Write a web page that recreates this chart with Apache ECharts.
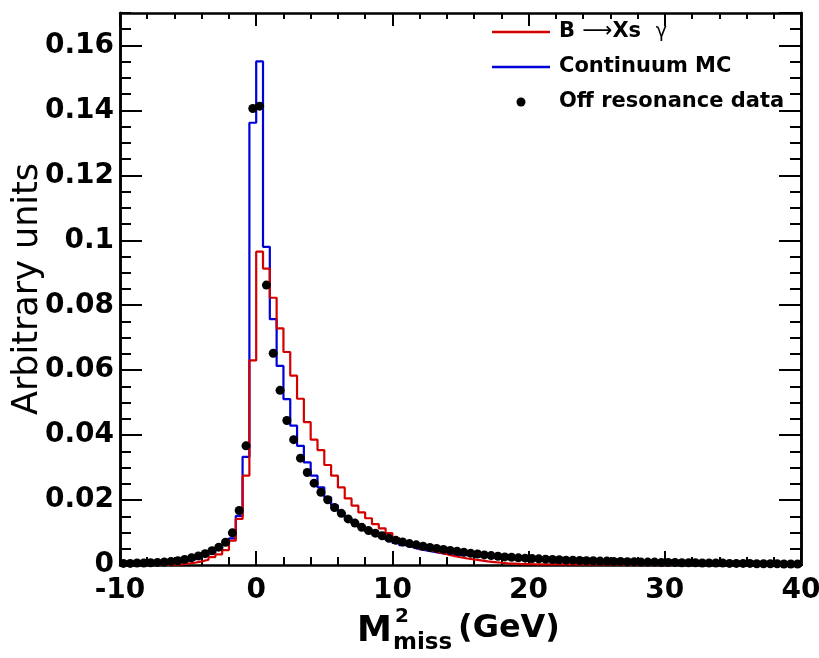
<!DOCTYPE html>
<html>
<head>
<meta charset="utf-8">
<script src="https://cdn.jsdelivr.net/npm/echarts@6/dist/echarts.min.js"></script>
<style>
html,body{margin:0;padding:0;background:#fff;}
#chart{width:819px;height:658px;}
</style>
</head>
<body>
<div id="chart"></div>
<script>
// Histogram binning: 100 bins of width 0.5 from -10 to 40
const binLow = -10;
const binWidth = 0.5;
const xTickLabels = ['-10', '0', '10', '20', '30', '40'];
const yTickLabels = ['0', '0.02', '0.04', '0.06', '0.08', '0.1', '0.12', '0.14', '0.16'];
const seriesNames = ['B \u2192 Xs \u03b3', 'Continuum MC', 'Off resonance data'];

// B -> Xs gamma (red histogram)
const bxsgamma = [
  0, 0, 0, 0, 0, 0, 0, 0.0001, 0.0002, 0.0004,
  0.0007, 0.0011, 0.0016, 0.0024, 0.0033, 0.0046, 0.0075, 0.0142, 0.0275, 0.0630,
  0.0965, 0.0913, 0.0823, 0.0729, 0.0656, 0.0583, 0.0512, 0.0440, 0.0386, 0.0354,
  0.0308, 0.0275, 0.0239, 0.0205, 0.0183, 0.0162, 0.0144, 0.0126, 0.0113, 0.0098,
  0.0083, 0.0072, 0.0064, 0.0056, 0.0049, 0.0043, 0.0038, 0.0033, 0.0028, 0.0024,
  0.0020, 0.0017, 0.0014, 0.0011, 0.0009, 0.0007, 0.0005, 0.0004, 0.0003, 0.0003,
  0.0002, 0.0002, 0.0002, 0.0002, 0.0002, 0.0002, 0.0002, 0.0002, 0.0002, 0.0002,
  0.0002, 0.0002, 0.0002, 0.0001, 0.0001, 0.0001, 0.0001, 0.0001, 0.0001, 0.0001,
  0.0001, 0.0001, 0.0001, 0.0001, 0.0001, 0.0001, 0.0001, 0.0001, 0.0001, 0.0001,
  0.0001, 0.0001, 0.0001, 0.0001, 0.0001, 0.0001, 0.0001, 0.0001, 0.0001, 0.0001
];

// Continuum MC (blue histogram)
const continuumMC = [
  0.0003, 0.0003, 0.0004, 0.0004, 0.0005, 0.0006, 0.0007, 0.0008, 0.0010, 0.0013,
  0.0017, 0.0022, 0.0029, 0.0038, 0.0049, 0.0062, 0.0082, 0.0151, 0.0333, 0.1362,
  0.1551, 0.0980, 0.0757, 0.0613, 0.0511, 0.0429, 0.0367, 0.0316, 0.0275, 0.0239,
  0.0208, 0.0183, 0.0162, 0.0144, 0.0128, 0.0115, 0.0104, 0.0094, 0.0085, 0.0077,
  0.0068, 0.0061, 0.0055, 0.0049, 0.0045, 0.0041, 0.0037, 0.0034, 0.0032, 0.0031,
  0.0030, 0.0028, 0.0027, 0.0025, 0.0024, 0.0022, 0.0021, 0.0020, 0.0019, 0.0018,
  0.0017, 0.0016, 0.0015, 0.0015, 0.0014, 0.0013, 0.0013, 0.0012, 0.0012, 0.0011,
  0.0011, 0.0010, 0.0010, 0.0010, 0.0009, 0.0009, 0.0008, 0.0008, 0.0008, 0.0007,
  0.0007, 0.0007, 0.0006, 0.0006, 0.0006, 0.0006, 0.0005, 0.0005, 0.0005, 0.0005,
  0.0004, 0.0004, 0.0004, 0.0004, 0.0004, 0.0003, 0.0003, 0.0003, 0.0003, 0.0003
];

// Off resonance data (black points)
const offResData = [
  0.0005, 0.0005, 0.0006, 0.0006, 0.0007, 0.0008, 0.0009, 0.0011, 0.0013, 0.0017,
  0.0022, 0.0028, 0.0035, 0.0044, 0.0055, 0.0070, 0.0099, 0.0168, 0.0367, 0.1406,
  0.1413, 0.0862, 0.0652, 0.0538, 0.0445, 0.0386, 0.0329, 0.0285, 0.0252, 0.0224,
  0.0201, 0.0177, 0.0159, 0.0142, 0.0129, 0.0116, 0.0106, 0.0098, 0.0090, 0.0082,
  0.0076, 0.0071, 0.0066, 0.0062, 0.0058, 0.0054, 0.0051, 0.0048, 0.0045, 0.0042,
  0.0039, 0.0036, 0.0034, 0.0031, 0.0029, 0.0027, 0.0025, 0.0024, 0.0022, 0.0021,
  0.0020, 0.0019, 0.0018, 0.0017, 0.0016, 0.0015, 0.0015, 0.0014, 0.0013, 0.0013,
  0.0012, 0.0012, 0.0011, 0.0011, 0.0010, 0.0010, 0.0009, 0.0009, 0.0009, 0.0008,
  0.0008, 0.0008, 0.0007, 0.0007, 0.0007, 0.0006, 0.0006, 0.0006, 0.0006, 0.0005,
  0.0005, 0.0005, 0.0005, 0.0004, 0.0004, 0.0004, 0.0004, 0.0003, 0.0003, 0.0003
];

const RED = '#d40000';
const BLUE = '#0000d8';
const FONT = 'DejaVu Sans';
const LINE_ICON = 'path://M0,0 L58,0 L58,2.4 L0,2.4 Z';

function histData(vals) {
  const d = vals.map((v, i) => [binLow + i * binWidth, v]);
  d.push([binLow + vals.length * binWidth, vals[vals.length - 1]]);
  return d;
}
function pointData(vals) {
  return vals.map((v, i) => [binLow + (i + 0.5) * binWidth, v]);
}

const chart = echarts.init(document.getElementById('chart'), null, {renderer: 'canvas'});

const axisLineStyle = {show: true, onZero: false, lineStyle: {color: '#000', width: 2.5}};
const labelStyle = {fontFamily: FONT, fontWeight: 'bold', fontSize: 28, color: '#000'};

function xAx(pos, labels) {
  return {
    type: 'value', position: pos, min: -10, max: 40, interval: 10,
    axisLine: axisLineStyle,
    axisTick: {show: true, inside: true, length: pos === 'bottom' ? 14 : 13, lineStyle: {color: '#000', width: 2}},
    minorTick: {show: true, splitNumber: 5, length: pos === 'bottom' ? 8 : 6, lineStyle: {color: '#000', width: 2}},
    axisLabel: labels ? Object.assign({show: true, margin: 12,
      formatter: v => { const k = Math.round((v + 10) / 10); return xTickLabels[k] !== undefined ? xTickLabels[k] : ''; }}, labelStyle) : {show: false},
    splitLine: {show: false}, minorSplitLine: {show: false}
  };
}
function yAx(pos, major, labels) {
  return {
    type: 'value', position: pos, min: 0, max: 0.17, interval: major ? 0.02 : 0.005,
    axisLine: axisLineStyle,
    axisTick: {show: true, inside: true, length: major ? 22 : 11, lineStyle: {color: '#000', width: 2}},
    axisLabel: labels ? Object.assign({show: true, margin: 6, showMaxLabel: false,
      formatter: v => { const k = Math.round(v / 0.02); return (Math.abs(v - k * 0.02) < 1e-9 && yTickLabels[k] !== undefined) ? yTickLabels[k] : ''; }}, labelStyle) : {show: false},
    splitLine: {show: false}
  };
}

const yMain = yAx('left', true, true);
yMain.name = 'Arbitrary units';
yMain.nameLocation = 'middle';
yMain.nameGap = 75;
yMain.nameMoveOverlap = false;
yMain.nameTextStyle = {fontFamily: FONT, fontSize: 35, color: '#000'};

const option = {
  backgroundColor: '#fff',
  animation: false,
  grid: {left: 120, right: 18, top: 13, bottom: 93, containLabel: false, outerBoundsMode: 'none'},
  xAxis: [xAx('bottom', true), xAx('top', false)],
  yAxis: [yMain, yAx('left', false, false), yAx('right', true, false), yAx('right', false, false)],
  legend: {
    orient: 'vertical', left: 487, top: 15, itemWidth: 58, itemHeight: 9, itemGap: 11,
    textStyle: {fontFamily: FONT, fontWeight: 'bold', fontSize: 21, color: '#000', lineHeight: 24, padding: [0, 0, 0, 4],
      rich: {
        b: {fontFamily: FONT, fontWeight: 'bold', fontSize: 21, color: '#000'},
        a: {fontFamily: FONT, fontWeight: 'normal', fontSize: 21, color: '#000'},
        g: {fontFamily: FONT, fontWeight: 'normal', fontSize: 19, color: '#000'}
      }
    },
    formatter: name => name === seriesNames[0] ? '{b|B} {a|\u27f6}{b|Xs}  {g|\u03b3}' : name,
    data: [
      {name: seriesNames[0], icon: LINE_ICON, itemStyle: {color: RED}},
      {name: seriesNames[1], icon: LINE_ICON, itemStyle: {color: BLUE}},
      {name: seriesNames[2], icon: 'circle', itemStyle: {color: '#000', opacity: 1}}
    ]
  },
  series: [
    {
      name: seriesNames[1], type: 'line', step: 'end', xAxisIndex: 0, yAxisIndex: 0,
      data: histData(continuumMC), symbol: 'none', showSymbol: false,
      lineStyle: {color: BLUE, width: 2.2}, itemStyle: {color: BLUE}, z: 2
    },
    {
      name: seriesNames[0], type: 'line', step: 'end', xAxisIndex: 0, yAxisIndex: 0,
      data: histData(bxsgamma), symbol: 'none', showSymbol: false,
      lineStyle: {color: RED, width: 2.2}, itemStyle: {color: RED}, z: 3
    },
    {
      name: seriesNames[2], type: 'scatter', xAxisIndex: 0, yAxisIndex: 0,
      data: pointData(offResData), symbol: 'circle', symbolSize: 9,
      itemStyle: {color: '#000', opacity: 1}, z: 4
    }
  ],
  graphic: [
    {type: 'text', left: 357, top: 614, style: {text: 'M', font: 'bold 35px "DejaVu Sans"', fill: '#000'}},
    {type: 'text', left: 395, top: 607, style: {text: '2', font: 'bold 20px "DejaVu Sans"', fill: '#000'}},
    {type: 'text', left: 393, top: 632, style: {text: 'miss', font: 'bold 23px "DejaVu Sans"', fill: '#000'}},
    {type: 'text', left: 458, top: 613, style: {text: '(GeV)', font: 'bold 32px "DejaVu Sans"', fill: '#000'}}
  ]
};
chart.setOption(option);
</script>
</body>
</html>
